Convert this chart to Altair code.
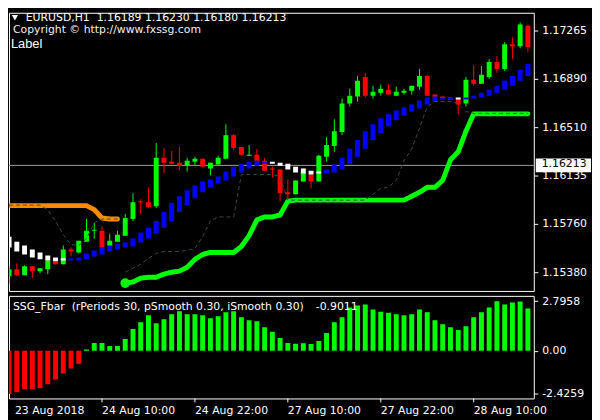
import altair as alt
import pandas as pd

# ---------------- data ----------------
bar_idx = list(range(68))

opens = [1.15349, 1.15403, 1.15357, 1.15426, 1.15388, 1.15403, 1.15465, 1.15442, 1.15557, 1.15534,
         1.15618, 1.15703, 1.15703, 1.15580, 1.15618, 1.15665, 1.15795, 1.15934, 1.15926, 1.15895,
         1.16272, 1.16242, 1.16234, 1.16211, 1.16242, 1.16265, 1.16188, 1.16219, 1.16265, 1.16449,
         1.16357, 1.16288, 1.16295, 1.16249, 1.16188, 1.16180, 1.16003, 1.15988, 1.16088, 1.16142,
         1.16088, 1.16280, 1.16365, 1.16473, 1.16696, 1.16750, 1.16903, 1.16757, 1.16780, 1.16803,
         1.16757, 1.16780, 1.16796, 1.16826, 1.16911, 1.16765, 1.16750, 1.16742, 1.16734, 1.16696,
         1.16880, 1.16850, 1.16903, 1.17019, 1.16965, 1.17157, 1.17142, 1.17303]
highs = [1.15426, 1.15449, 1.15434, 1.15426, 1.15411, 1.15480, 1.15465, 1.15588, 1.15572, 1.15626,
         1.15795, 1.15765, 1.15734, 1.15680, 1.15703, 1.15834, 1.15995, 1.15949, 1.16042, 1.16388,
         1.16349, 1.16326, 1.16357, 1.16272, 1.16280, 1.16265, 1.16234, 1.16288, 1.16534, 1.16457,
         1.16357, 1.16372, 1.16342, 1.16272, 1.16203, 1.16180, 1.16103, 1.16096, 1.16188, 1.16149,
         1.16295, 1.16434, 1.16573, 1.16734, 1.16811, 1.16911, 1.16934, 1.16834, 1.16842, 1.16850,
         1.16826, 1.16811, 1.16834, 1.16965, 1.16919, 1.16765, 1.16750, 1.16742, 1.16742, 1.16903,
         1.16996, 1.16988, 1.17042, 1.17065, 1.17173, 1.17211, 1.17327, 1.17311]
lows = [1.15288, 1.15349, 1.15357, 1.15334, 1.15372, 1.15365, 1.15442, 1.15442, 1.15503, 1.15526,
        1.15618, 1.15642, 1.15572, 1.15580, 1.15618, 1.15665, 1.15780, 1.15834, 1.15880, 1.15880,
        1.16149, 1.16219, 1.16172, 1.16165, 1.16211, 1.16196, 1.16134, 1.16219, 1.16265, 1.16334,
        1.16288, 1.16288, 1.16249, 1.16172, 1.16119, 1.15934, 1.15934, 1.15988, 1.16088, 1.16034,
        1.16088, 1.16242, 1.16319, 1.16449, 1.16672, 1.16711, 1.16742, 1.16734, 1.16757, 1.16765,
        1.16757, 1.16765, 1.16765, 1.16803, 1.16757, 1.16734, 1.16734, 1.16726, 1.16611, 1.16672,
        1.16834, 1.16850, 1.16888, 1.16934, 1.16950, 1.17042, 1.17126, 1.17096]
closes = [1.15403, 1.15357, 1.15426, 1.15388, 1.15411, 1.15472, 1.15442, 1.15557, 1.15542, 1.15626,
          1.15703, 1.15711, 1.15572, 1.15626, 1.15672, 1.15803, 1.15926, 1.15926, 1.15888, 1.16272,
          1.16234, 1.16226, 1.16211, 1.16249, 1.16265, 1.16203, 1.16234, 1.16272, 1.16449, 1.16349,
          1.16295, 1.16295, 1.16249, 1.16172, 1.16180, 1.15995, 1.15988, 1.16096, 1.16157, 1.16088,
          1.16288, 1.16372, 1.16480, 1.16696, 1.16757, 1.16873, 1.16757, 1.16788, 1.16811, 1.16765,
          1.16788, 1.16796, 1.16834, 1.16911, 1.16757, 1.16742, 1.16734, 1.16726, 1.16688, 1.16880,
          1.16850, 1.16919, 1.17019, 1.16965, 1.17157, 1.17142, 1.17311, 1.17134]

# SSG colour bars drawn over the candles (w = white, b = blue)
ov_idx = list(range(0, 68))
ov_kind = ['w'] * 8 + ['b'] * 26 + ['w'] * 7 + ['b'] * 17 + ['w'] + ['b'] * 9
ov_hi = [1.15657, 1.15618, 1.15588, 1.15557, 1.15534, 1.15511, 1.15495, 1.15488,
         1.15488, 1.15495, 1.15526, 1.15549, 1.15572, 1.15588, 1.15603, 1.15611, 1.15642, 1.15688,
         1.15726, 1.15780, 1.15849, 1.15919, 1.15972, 1.16019, 1.16057, 1.16088, 1.16103, 1.16126,
         1.16165, 1.16203, 1.16226, 1.16242, 1.16249, 1.16242,
         1.16242, 1.16234, 1.16226, 1.16203, 1.16188, 1.16172, 1.16165,
         1.16180, 1.16219, 1.16272, 1.16342, 1.16411, 1.16480, 1.16534, 1.16580, 1.16611, 1.16642,
         1.16665, 1.16688, 1.16719, 1.16742, 1.16750, 1.16742, 1.16742,
         1.16742,
         1.16742, 1.16757, 1.16780, 1.16803, 1.16834, 1.16873, 1.16911, 1.16957, 1.17003]
ov_lo = [1.15572, 1.15542, 1.15518, 1.15495, 1.15480, 1.15472, 1.15465, 1.15472,
         1.15472, 1.15472, 1.15480, 1.15503, 1.15518, 1.15542, 1.15557, 1.15572, 1.15580, 1.15611,
         1.15642, 1.15680, 1.15726, 1.15780, 1.15849, 1.15903, 1.15957, 1.16003, 1.16042, 1.16072,
         1.16096, 1.16126, 1.16157, 1.16188, 1.16211, 1.16226,
         1.16226, 1.16211, 1.16180, 1.16157, 1.16149, 1.16142, 1.16149,
         1.16149, 1.16157, 1.16180, 1.16226, 1.16280, 1.16342, 1.16411, 1.16465, 1.16519, 1.16565,
         1.16603, 1.16634, 1.16657, 1.16688, 1.16711, 1.16726, 1.16726,
         1.16726,
         1.16726, 1.16734, 1.16742, 1.16757, 1.16780, 1.16803, 1.16834, 1.16873, 1.16911]

# orange (bars 0-14) and green (bars 15-67) stop lines
orange_vals = [1.15899] * 11 + [1.15868, 1.15803, 1.15795, 1.15795]
green_vals = [1.15295, 1.15303, 1.15334, 1.15341, 1.15341, 1.15365, 1.15380, 1.15388, 1.15418,
              1.15480, 1.15518, 1.15534, 1.15534, 1.15534, 1.15534, 1.15580, 1.15665, 1.15788,
              1.15811, 1.15811, 1.15826, 1.15934] + [1.15942] * 15 + \
             [1.15972, 1.16003, 1.16042, 1.16042, 1.16096, 1.16257, 1.16319, 1.16480] + [1.16615] * 8

# thin dashed line, two pieces
dash1_vals = [1.15903] * 5 + [1.15865, 1.15780, 1.15672, 1.15595, 1.15588, 1.15642, 1.15765,
                              1.15795, 1.15795, 1.15795]
dash2_vals = [1.15380, 1.15411, 1.15442, 1.15488, 1.15526, 1.15542, 1.15542, 1.15542, 1.15549,
              1.15565, 1.15657, 1.15780, 1.15811, 1.15811, 1.15811] + [1.16142] * 5 + \
             [1.16126] + [1.15942] * 11 + \
             [1.15988, 1.16034, 1.16042, 1.16096, 1.16249, 1.16342, 1.16503, 1.16672, 1.16711,
              1.16711, 1.16711, 1.16696, 1.16634] + [1.16619] * 8

# SSG_Fbar histogram
fbar = [-2.4259, -2.333, -2.166, -2.166, -2.111, -1.889, -1.611, -1.278, -1.000, -0.722,
        0.078, 0.444, 0.444, 0.278, 0.278, 0.667, 1.222, 1.611, 2.000, 1.555,
        1.778, 2.055, 2.222, 2.055, 2.055, 2.000, 1.833, 1.944, 2.166, 2.222,
        1.889, 1.722, 1.667, 1.333, 1.078, 0.722, 0.444, 0.400, 0.428, 0.389,
        0.556, 1.000, 1.611, 1.889, 2.444, 2.555, 2.611, 2.333, 2.205, 2.150,
        2.055, 2.000, 2.055, 2.333, 2.166, 1.722, 1.500, 1.333, 1.167, 1.389,
        1.889, 2.166, 2.444, 2.7958, 2.611, 2.722, 2.780, 2.389]

current_price = [1.16213]
current_label = ['1.16213']

price_ticks = [1.17265, 1.16890, 1.16510, 1.16135, 1.15760, 1.15380]
ind_ticks = [2.7958, 0.0, -2.4259]
ind_tick_labels = ['2.7958', '0.00', '-2.4259']
time_idx = [0, 12, 24, 36, 48, 60]
time_lbl = ['23 Aug 2018', '24 Aug 10:00', '24 Aug 22:00', '27 Aug 10:00', '27 Aug 22:00', '28 Aug 10:00']

header_txt = ['EURUSD,H1\u00a0 1.16189 1.16230 1.16180 1.16213']
copyright_txt = ['Copyright \u00a9 http://www.fxssg.com']
label_txt = ['Label']
ind_name_txt = ['SSG_Fbar\u00a0 (rPeriods 30, pSmooth 0.30, iSmooth 0.30)']
ind_value_txt = ['-0.9011']

# ---------------- frames ----------------
candles = pd.DataFrame({'i': bar_idx, 'o': opens, 'h': highs, 'l': lows, 'c': closes})
overlay = pd.DataFrame({'i': ov_idx, 'hi': ov_hi, 'lo': ov_lo, 'k': ov_kind})
orange = pd.DataFrame({'i': list(range(0, 15)), 'v': orange_vals})
green = pd.DataFrame({'i': list(range(15, 68)), 'v': green_vals})
dot = green.iloc[[0]]
dashed = pd.DataFrame({'i': list(range(0, 15)) + list(range(15, 68)),
                       'v': dash1_vals + dash2_vals,
                       'seg': ['a'] * 15 + ['b'] * 53})
ind = pd.DataFrame({'i': bar_idx, 'v': fbar})
cur = pd.DataFrame({'p': current_price, 'lbl': current_label})
times = pd.DataFrame({'i': time_idx, 't': time_lbl})

# ---------------- scales / axes ----------------
FONT = 'DejaVu Sans'
W, H1, H2 = 532, 282, 104
GREEN, RED, BLUE, ORANGE, DASH = '#00ff00', '#ff0000', '#0000ff', '#ff8c00', '#2f4f4f'
xs = alt.Scale(domain=[0.625, 67.125], nice=False, zero=False)
ys = alt.Scale(domain=[1.152337, 1.174034], nice=False, zero=False)
ind_scale = alt.Scale(domain=[-2.683, 3.094], nice=False, zero=False)

price_axis = alt.Axis(orient='right', values=price_ticks, format='.5f', labelColor='white',
                      tickColor='white', tickSize=4, labelPadding=4, domain=False, grid=False,
                      labelFont=FONT, labelFontSize=11, title=None, labelOverlap=False,
                      labelFlush=False)

ind_expr = "''"
for v, t in reversed(list(zip(ind_ticks, ind_tick_labels))):
    ind_expr = f"abs(datum.value - ({v})) < 1e-6 ? '{t}' : " + ind_expr
ind_axis = alt.Axis(orient='right', values=ind_ticks, labelExpr=ind_expr, labelColor='white',
                    tickColor='white', tickSize=4, labelPadding=4, domain=False, grid=False,
                    labelFont=FONT, labelFontSize=11, title=None, labelOverlap=False,
                    labelFlush=False)

X = alt.X('i:Q', scale=xs, axis=None)


def PY(field):
    # every layer of the price panel carries the same y axis so that it is merged into one
    return alt.Y(field, scale=ys, axis=price_axis)


up_down = alt.condition('datum.c >= datum.o', alt.value(GREEN), alt.value(RED))

# ---------------- main panel ----------------
price_line = alt.Chart(cur).mark_rule(color='#a0a0a0', strokeWidth=1).encode(y=PY('p:Q'))

wicks = alt.Chart(candles).mark_rule(strokeWidth=1, clip=True).encode(
    x=X, y=PY('h:Q'), y2='l:Q', color=up_down)

bodies = alt.Chart(candles).mark_bar(size=5, clip=True).encode(
    x=X, y=PY('o:Q'), y2='c:Q', color=up_down)

white_bars = alt.Chart(overlay).transform_filter("datum.k == 'w'").mark_bar(
    size=5, clip=True, color='#ffffff').encode(x=X, y=PY('hi:Q'), y2='lo:Q')

blue_bars = alt.Chart(overlay).transform_filter("datum.k == 'b'").mark_bar(
    size=5, clip=True, color=BLUE).encode(x=X, y=PY('hi:Q'), y2='lo:Q')

orange_line = alt.Chart(orange).mark_line(color=ORANGE, strokeWidth=5, strokeCap='round',
                                          strokeJoin='round', clip=True).encode(
    x=X, y=PY('v:Q'))

green_line = alt.Chart(green).mark_line(color=GREEN, strokeWidth=5, strokeCap='round',
                                        strokeJoin='round', clip=True).encode(
    x=X, y=PY('v:Q'))

green_dot = alt.Chart(dot).mark_circle(color=GREEN, size=95, opacity=1).encode(
    x=X, y=PY('v:Q'))

dash_line = alt.Chart(dashed).mark_line(color=DASH, strokeWidth=1, strokeDash=[4, 3],
                                        clip=True).encode(
    x=X, y=PY('v:Q'), detail='seg:N')


def label(txt, x, y, size=11, font=FONT, color='white'):
    return alt.Chart(pd.DataFrame({'t': txt})).mark_text(
        align='left', baseline='middle', font=font, fontSize=size, color=color).encode(
        text='t:N', x=alt.value(x), y=alt.value(y))


tri = alt.Chart(pd.DataFrame({'t': ['v']})).mark_point(
    shape='triangle-down', filled=True, color='white', size=40, opacity=1).encode(
    x=alt.value(6), y=alt.value(5))

header = label(header_txt, 17, 5)
copyright_t = label(copyright_txt, 4, 18, color='#f0f0f0')
label_t = label(label_txt, 2, 32, size=13, font='Liberation Sans')

price_box = alt.Chart(cur).mark_rect(color='white', yOffset=-7, y2Offset=7).encode(
    x=alt.value(534), x2=alt.value(590), y=PY('p:Q'), y2='p:Q')
price_box_text = alt.Chart(cur).mark_text(align='left', baseline='middle', font=FONT,
                                          fontSize=11, color='black', dy=-1).encode(
    x=alt.value(540), y=PY('p:Q'), text='lbl:N')

main = alt.layer(price_line, wicks, bodies, white_bars, blue_bars, orange_line, green_line,
                 green_dot, dash_line, tri, header, copyright_t, label_t, price_box,
                 price_box_text).properties(width=W, height=H1)

# ---------------- indicator panel ----------------
hist = alt.Chart(ind).mark_bar(size=5, clip=True).encode(
    x=X,
    y=alt.Y('v:Q', scale=ind_scale, axis=ind_axis),
    y2=alt.datum(0),
    color=alt.condition('datum.v >= 0', alt.value(GREEN), alt.value(RED)))

time_ticks = alt.Chart(times).transform_filter('datum.i > 0').mark_rule(
    color='white', strokeWidth=1).encode(x=X, y=alt.value(H2), y2=alt.value(H2 + 4))

time_text = alt.Chart(times).transform_calculate(
    xp='max(datum.i, 0.75)').mark_text(align='left', baseline='top', font=FONT, fontSize=11,
                                       color='white').encode(
    x=alt.X('xp:Q', scale=xs, axis=None), y=alt.value(H2 + 7), text='t:N')

ind_name = label(ind_name_txt, 4, 11)
ind_value = label(ind_value_txt, 311, 11)

indicator = alt.layer(hist, time_ticks, time_text, ind_name, ind_value).properties(
    width=W, height=H2)

chart = alt.vconcat(main, indicator, spacing=2).properties(
    padding=0, background='black').configure_view(stroke='white', strokeWidth=1)

chart.save('out.html', embed_options={'renderer': 'svg', 'actions': False})
